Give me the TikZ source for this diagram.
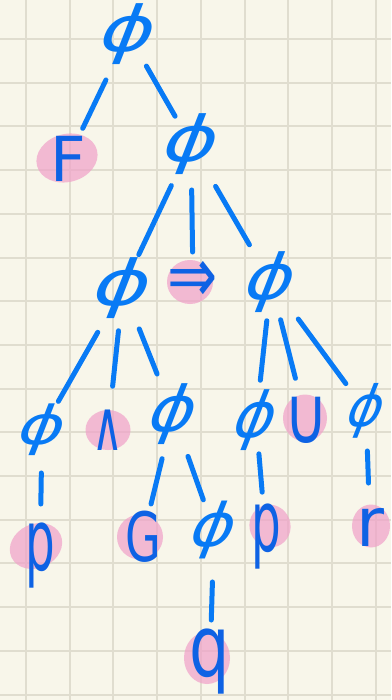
\documentclass[tikz,border=0pt]{standalone}
\usepackage{fontspec}
\usepackage{tikz}
\usetikzlibrary{shapes.geometric}

\newfontfamily\handfont{DejaVu Sans}

\definecolor{paper}{RGB}{248,246,234}
\definecolor{gridgray}{RGB}{224,221,207}
\definecolor{ink}{RGB}{8,122,245}
\definecolor{inkdark}{RGB}{14,98,228}
\definecolor{marker}{RGB}{240,160,200}

\tikzset{
  gridline/.style={line width=2pt, gridgray},
  stroke/.style={line width=5pt, ink, line cap=round},
  phinode/.style={inner sep=0pt, font=\handfont, text=ink, scale=6.3, xscale=1.3, xslant=0.3},
  lab/.style={inner sep=0pt, font=\handfont, text=inkdark},
  leaf/.style={ellipse, fill=marker, fill opacity=0.7, inner sep=0pt},
}

\begin{document}
\begin{tikzpicture}[x=1pt, y=-1pt]
  % papier
  \fill[paper] (0,0) rectangle (391,700);
  \useasboundingbox (0,0) rectangle (391,700);
  \foreach \i in {0,...,8}
    \draw[gridline] (26+43.7*\i,0) -- (26+43.7*\i,700);
  \foreach \j in {0,...,15}
    \draw[gridline] (0,39+43.7*\j) -- (391,39+43.7*\j);

  % markierte Blaetter
  \node[leaf, minimum width=62pt, minimum height=48pt, rotate=15] (hlF) at (67,158) {};
  \node[leaf, minimum width=46pt, minimum height=44pt] (hlImp) at (190,282) {};
  \node[leaf, minimum width=45pt, minimum height=40pt] (hlAnd) at (108,430) {};
  \node[leaf, minimum width=44pt, minimum height=47pt] (hlU) at (305,418) {};
  \node[leaf, minimum width=54pt, minimum height=44pt, rotate=25] (hlP) at (36,546) {};
  \node[leaf, minimum width=46pt, minimum height=45pt] (hlG) at (140,537) {};
  \node[leaf, minimum width=41pt, minimum height=43pt, rotate=20] (hlPP) at (270,526) {};
  \node[leaf, minimum width=38pt, minimum height=43pt] (hlR) at (371,526) {};
  \node[leaf, minimum width=46pt, minimum height=52pt] (hlQ) at (207,658) {};

  % Knoten phi
  \node[phinode] (phiA) at (128,34) {ϕ};
  \node[phinode] (phiB) at (191,144) {ϕ};
  \node[phinode, xscale=1.05] (phiC) at (123,288) {ϕ};
  \node[phinode, xscale=0.9] (phiD) at (271,282) {ϕ};
  \node[phinode, scale=0.85] (phiE) at (42,430) {ϕ};
  \node[phinode, xscale=0.85] (phiF) at (173,414) {ϕ};
  \node[phinode, xscale=0.75] (phiG) at (256,420) {ϕ};
  \node[phinode, scale=0.9, xscale=0.72] (phiH) at (366,411) {ϕ};
  \node[phinode, scale=0.95, xscale=0.85] (phiI) at (214,530) {ϕ};

  % Beschriftungen
  \node[lab, scale=6.2] (labF) at (68,159) {F};
  \node[lab, scale=6, yscale=1.3] (labImp) at (193,282) {⇒};
  \node[lab, scale=7, xscale=0.6] (labAnd) at (108,430) {∧};
  \node[lab, scale=8, xscale=0.75] (labU) at (306,420) {∪};
  \node[lab, scale=8.5, xscale=0.55] (labP) at (40,556) {p};
  \node[lab, scale=6.8, xscale=0.68] (labG) at (143,537) {G};
  \node[lab, scale=8.5, xscale=0.55] (labPP) at (266,537) {p};
  \node[lab, scale=6.8] (labR) at (370,527) {r};
  \node[lab, scale=8.5, xscale=0.75] (labQ) at (210,662) {q};

  % Kanten
  \draw[stroke, shorten <=51pt, shorten >=34pt] (phiA.center) -- (labF.center);
  \draw[stroke, shorten <=37pt, shorten >=32pt] (phiA.center) -- (phiB.center);
  \draw[stroke, shorten <=46pt, shorten >=37pt] (phiB.center) -- (phiC.center);
  \draw[stroke, shorten <=46pt, shorten >=30pt] (phiB.center) -- (labImp.center);
  \draw[stroke, shorten <=49pt, shorten >=43pt] (phiB.center) -- (phiD.center);
  \draw[stroke, shorten <=51pt, shorten >=33pt] (phiC.center) -- (phiE.center);
  \draw[stroke, shorten <=43pt, shorten >=44pt] (phiC.center) -- (labAnd.center);
  \draw[stroke, shorten <=44pt, shorten >=43pt] (phiC.center) -- (phiF.center);
  \draw[stroke, shorten <=39pt, shorten >=40pt] (phiD.center) -- (phiG.center);
  \draw[stroke, shorten <=39pt, shorten >=43pt] (phiD.center) -- (labU.center);
  \draw[stroke, shorten <=46pt, shorten >=34pt] (phiD.center) -- (phiH.center);
  \draw[stroke, shorten <=43pt, shorten >=52pt] (phiE.center) -- (labP.center);
  \draw[stroke, shorten <=46pt, shorten >=34pt] (phiF.center) -- (labG.center);
  \draw[stroke, shorten <=45pt, shorten >=32pt] (phiF.center) -- (phiI.center);
  \draw[stroke, shorten <=34pt, shorten >=45pt] (phiG.center) -- (labPP.center);
  \draw[stroke, shorten <=40pt, shorten >=44pt] (phiH.center) -- (labR.center);
  \draw[stroke, shorten <=52pt, shorten >=42pt] (phiI.center) -- (labQ.center);
\end{tikzpicture}
\end{document}
